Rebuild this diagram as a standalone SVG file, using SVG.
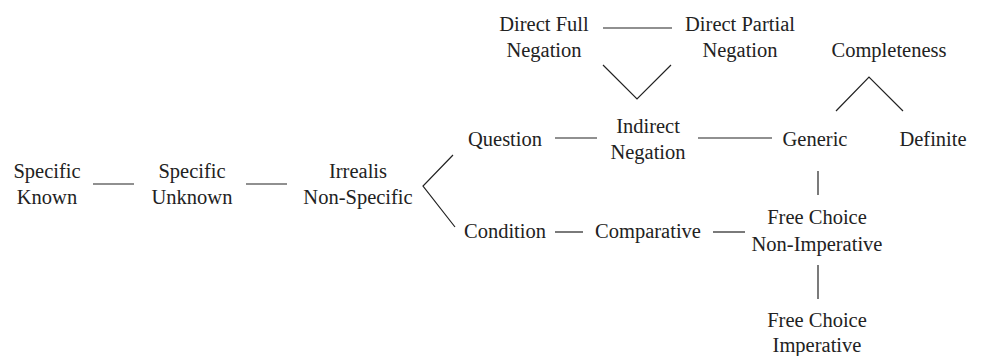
<svg xmlns="http://www.w3.org/2000/svg" width="994" height="356" viewBox="0 0 994 356">
<style>
text{font-family:"Liberation Serif","Times New Roman",serif;font-size:20.5px;fill:#222;text-anchor:middle}
.c line,.c polyline{stroke:#222;stroke-width:1.2;fill:none}
</style>
<rect width="994" height="356" fill="#fff"/>
<g class="c" id="connectors">
<line x1="603" y1="28" x2="672" y2="28"/>
<polyline points="603,65 637,99 671,65"/>
<polyline points="836,111 869,77 903,111"/>
<line x1="555" y1="138" x2="597" y2="138"/>
<line x1="698" y1="138" x2="772" y2="138"/>
<line x1="818" y1="171" x2="818" y2="195"/>
<line x1="93" y1="184" x2="134" y2="184"/>
<line x1="246" y1="184" x2="287" y2="184"/>
<polyline points="453,155 423,186 455,227"/>
<line x1="555" y1="232" x2="583" y2="232"/>
<line x1="713" y1="232" x2="745" y2="232"/>
<line x1="818" y1="265" x2="818" y2="299"/>
</g>
<g id="direct-full"><text x="544" y="31">Direct Full</text><text x="544" y="57">Negation</text></g>
<g id="direct-partial"><text x="740" y="31">Direct Partial</text><text x="740" y="57">Negation</text></g>
<g id="completeness"><text x="889" y="57">Completeness</text></g>
<g id="question"><text x="505" y="146">Question</text></g>
<g id="indirect"><text x="648" y="133">Indirect</text><text x="648" y="159">Negation</text></g>
<g id="generic"><text x="815" y="146">Generic</text></g>
<g id="definite"><text x="933" y="146">Definite</text></g>
<g id="specific-known"><text x="47" y="178">Specific</text><text x="47" y="204">Known</text></g>
<g id="specific-unknown"><text x="192" y="178">Specific</text><text x="192" y="204">Unknown</text></g>
<g id="irrealis"><text x="358" y="178">Irrealis</text><text x="358" y="204">Non-Specific</text></g>
<g id="condition"><text x="505" y="238">Condition</text></g>
<g id="comparative"><text x="648" y="238">Comparative</text></g>
<g id="fc-nonimp"><text x="817" y="224">Free Choice</text><text x="817" y="251">Non-Imperative</text></g>
<g id="fc-imp"><text x="817" y="327">Free Choice</text><text x="817" y="352">Imperative</text></g>
</svg>
